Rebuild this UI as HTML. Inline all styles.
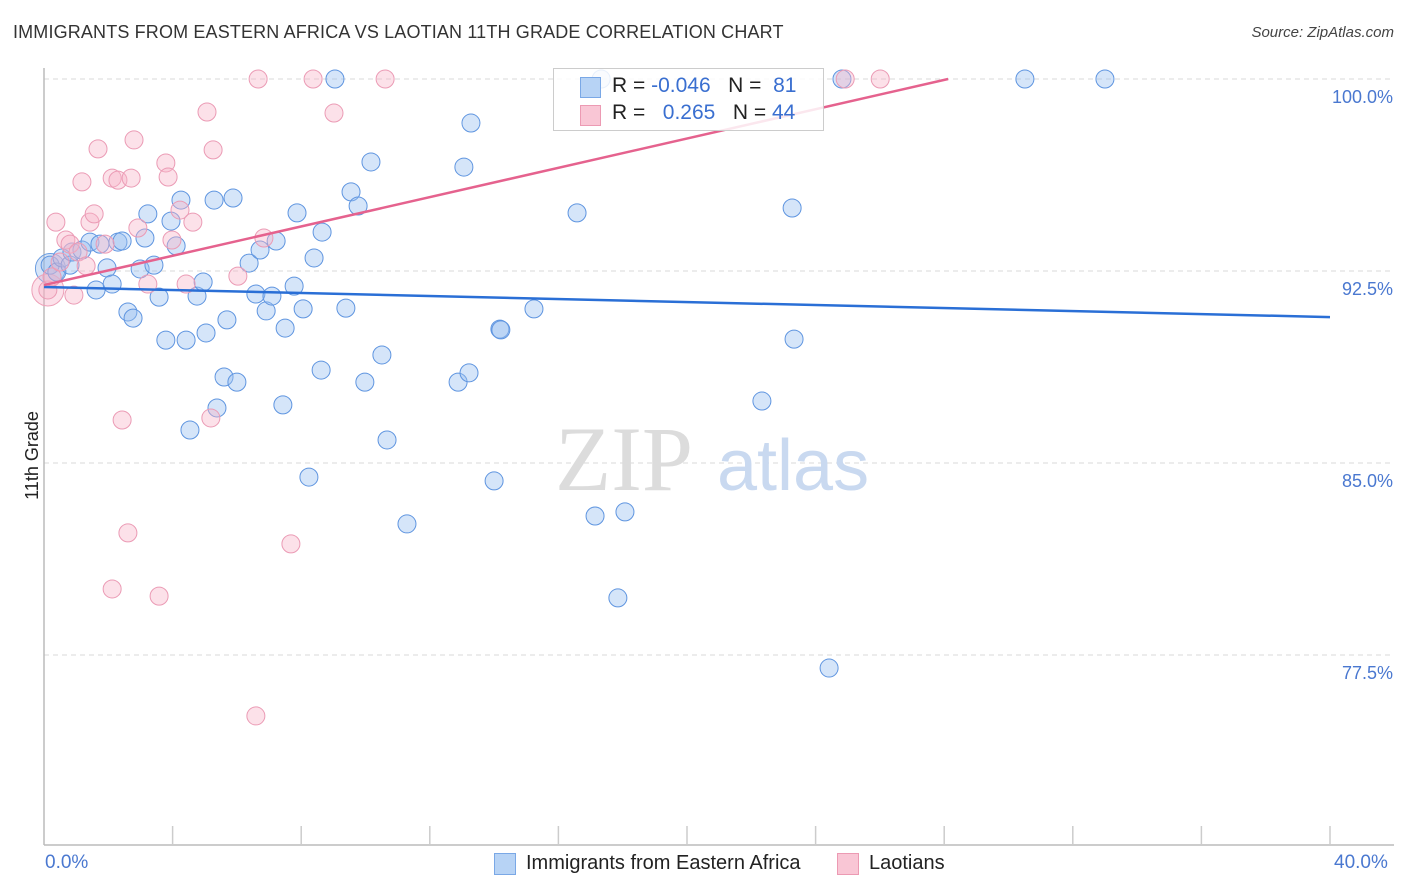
<!DOCTYPE html>
<html><head><meta charset="utf-8">
<style>
body{margin:0;background:#fff;font-family:"Liberation Sans",sans-serif;}
#wrap{position:relative;width:1406px;height:892px;overflow:hidden;}
.t{position:absolute;white-space:nowrap;}
</style></head>
<body>
<div id="wrap">
<div class="t" style="left:13px;top:22px;font-size:18px;color:#333;letter-spacing:0.15px">IMMIGRANTS FROM EASTERN AFRICA VS LAOTIAN 11TH GRADE CORRELATION CHART</div>
<div class="t" style="right:12px;top:24px;font-size:15px;color:#444;font-style:italic">Source: ZipAtlas.com</div>
<div class="t" style="left:-12px;top:445px;font-size:18px;color:#222;transform:rotate(-90deg)">11th Grade</div>
<svg id="plot" width="1406" height="892" style="position:absolute;left:0;top:0"></svg>
<div style="position:absolute;left:553px;top:68px;width:269px;height:61px;border:1px solid #ccc;background:rgba(255,255,255,0.85)">
  <div style="position:absolute;left:26px;top:8px;width:19px;height:19px;background:#b7d3f5;border:1px solid #7aa8e6"></div>
  <div style="position:absolute;left:26px;top:36px;width:19px;height:19px;background:#f9c6d5;border:1px solid #ec9ab3"></div>
  <div class="t" style="left:58px;top:5px;font-size:21px;color:#222">R = <span style="color:#3a6fd0">-0.046</span>&nbsp;&nbsp;&nbsp;N = &nbsp;<span style="color:#3a6fd0">81</span></div>
  <div class="t" style="left:58px;top:32px;font-size:21px;color:#222">R = &nbsp;&nbsp;<span style="color:#3a6fd0">0.265</span>&nbsp;&nbsp;&nbsp;N = <span style="color:#3a6fd0">44</span></div>
</div>
<div class="t" style="left:45px;top:852px;font-size:19px;color:#4a78d0">0.0%</div>
<div class="t" style="left:1334px;top:852px;font-size:19px;color:#4a78d0">40.0%</div>
<div style="position:absolute;left:494px;top:853px;width:20px;height:20px;background:#b7d3f5;border:1px solid #7aa8e6"></div>
<div class="t" style="left:526px;top:852px;font-size:20px;color:#222">Immigrants from Eastern Africa</div>
<div style="position:absolute;left:837px;top:853px;width:20px;height:20px;background:#f9c6d5;border:1px solid #ec9ab3"></div>
<div class="t" style="left:869px;top:852px;font-size:20px;color:#222">Laotians</div>
</div>
<script>
const yTicks=[100,92.5,85,77.5];
const yTickLabels=["100.0%","92.5%","85.0%","77.5%"];
const blueX=[0.19,0.40,0.56,0.81,0.87,1.18,1.43,1.74,1.96,1.62,2.12,2.30,2.43,2.61,2.77,2.99,3.14,3.23,3.42,3.58,3.79,3.95,4.11,4.26,4.42,4.54,4.76,4.95,5.04,5.29,5.38,5.60,5.69,5.88,6.00,6.38,6.59,6.72,6.91,7.09,7.22,7.43,7.50,7.78,7.87,8.06,8.24,8.40,8.62,8.65,9.05,9.39,9.55,9.77,9.98,10.17,10.51,10.67,11.29,12.88,13.06,13.22,13.28,14.00,14.18,14.21,15.24,16.58,17.14,17.33,17.85,18.07,22.33,23.27,23.33,24.42,24.82,30.51,33.00];
const blueY=[92.73,92.46,93.01,92.73,93.24,93.32,93.63,93.55,92.62,91.76,91.99,93.63,93.67,90.90,90.66,92.58,93.79,94.73,92.73,91.48,89.80,94.45,93.48,95.27,89.80,86.29,91.52,92.07,90.08,95.27,87.15,88.36,90.59,95.35,88.16,92.81,91.60,93.32,90.94,91.52,93.67,87.27,90.27,91.91,94.77,91.02,84.45,93.01,88.63,94.02,100,91.05,95.59,95.04,88.16,96.76,89.22,85.90,82.62,88.16,96.56,88.52,98.28,84.30,90.23,90.20,91.02,94.77,82.93,100,79.73,83.09,87.42,94.96,89.84,76.99,100,100,100];
const pinkX=[0.12,0.25,0.37,0.50,0.68,0.81,0.93,1.06,1.18,1.31,1.43,1.56,1.68,1.90,2.12,2.30,2.43,2.61,2.71,2.80,2.92,3.23,3.58,3.79,3.86,3.98,4.23,4.42,4.63,5.07,5.19,5.26,6.03,6.59,6.66,6.84,7.68,8.37,9.02,10.61,24.92,26.01,2.12];
const pinkY=[91.76,92.27,94.41,92.85,93.71,93.55,91.56,93.24,95.98,92.70,94.41,94.73,97.27,93.55,96.13,96.05,86.68,82.27,96.13,97.62,94.18,91.99,79.80,96.72,96.17,93.71,94.88,91.99,94.41,98.71,86.76,97.23,92.30,75.12,100,93.79,81.84,100,98.67,100,100,100,80.08];
const blueTrend=[91.875,90.70];
const pinkTrend=[91.95,103.40];
const NS="http://www.w3.org/2000/svg";
const svg=document.getElementById('plot');
const X=v=>44+v/40*1286;
const Y=v=>79+(100-v)*25.6;
function mk(tag,attrs){const e=document.createElementNS(NS,tag);for(const k in attrs)e.setAttribute(k,attrs[k]);svg.appendChild(e);return e;}
yTicks.forEach((t,i)=>{
  const g=mk('line',{x1:44,x2:1394,y1:Y(t),y2:Y(t),stroke:'#d8d8d8','stroke-dasharray':'5,4','stroke-width':1});
  
  
  const tx=mk('text',{x:1393,y:Y(t)+24,'text-anchor':'end','font-size':18,fill:'#4a78d0','font-family':'Liberation Sans, sans-serif'});
  tx.textContent=yTickLabels[i];
  
  
});
const ax=mk('line',{x1:44,x2:44,y1:68,y2:845,stroke:'#bbb','stroke-width':1.5});


const bx=mk('line',{x1:44,x2:1394,y1:845,y2:845,stroke:'#bbb','stroke-width':1.5});


for(let i=1;i<=10;i++){
  const tk=mk('line',{x1:X(i*4),x2:X(i*4),y1:826,y2:845,stroke:'#ccc','stroke-width':1.5});
  
  
}
const wm=mk('text',{x:555,y:490,'font-size':92,fill:'#dcdcdc','font-family':'Liberation Serif, serif'});
wm.textContent='ZIP';


const wm2=mk('text',{x:717,y:490,'font-size':72,fill:'#c9d9f0','font-family':'Liberation Sans, sans-serif'});
wm2.textContent='atlas';


const bb=mk('circle',{cx:X(0.2),cy:Y(92.6),r:15,fill:'rgba(140,180,235,0.35)',stroke:'#6b9de0','stroke-width':1});


const pb=mk('circle',{cx:X(0.12),cy:Y(91.76),r:16,fill:'rgba(245,170,195,0.35)',stroke:'#eda0b8','stroke-width':1});


blueX.forEach((x,i)=>{
  const c=mk('circle',{cx:X(x),cy:Y(blueY[i]),r:9,fill:'rgba(150,190,240,0.4)',stroke:'#5f95e0','stroke-width':1});
  
  
});
pinkX.forEach((x,i)=>{
  const c=mk('circle',{cx:X(x),cy:Y(pinkY[i]),r:9,fill:'rgba(248,180,200,0.4)',stroke:'#eb9bb5','stroke-width':1});
  
  
});
const bl=mk('line',{x1:X(0),y1:Y(blueTrend[0]),x2:X(40),y2:Y(blueTrend[1]),stroke:'#2a6fd6','stroke-width':2.5});


const slope=(pinkTrend[1]-pinkTrend[0])/40;
const xEnd=Math.min(40,(100-pinkTrend[0])/slope);
const pl=mk('line',{x1:X(0),y1:Y(pinkTrend[0]),x2:X(xEnd),y2:Y(pinkTrend[0]+slope*xEnd),stroke:'#e5628e','stroke-width':2.5});


</script>
</body></html>
